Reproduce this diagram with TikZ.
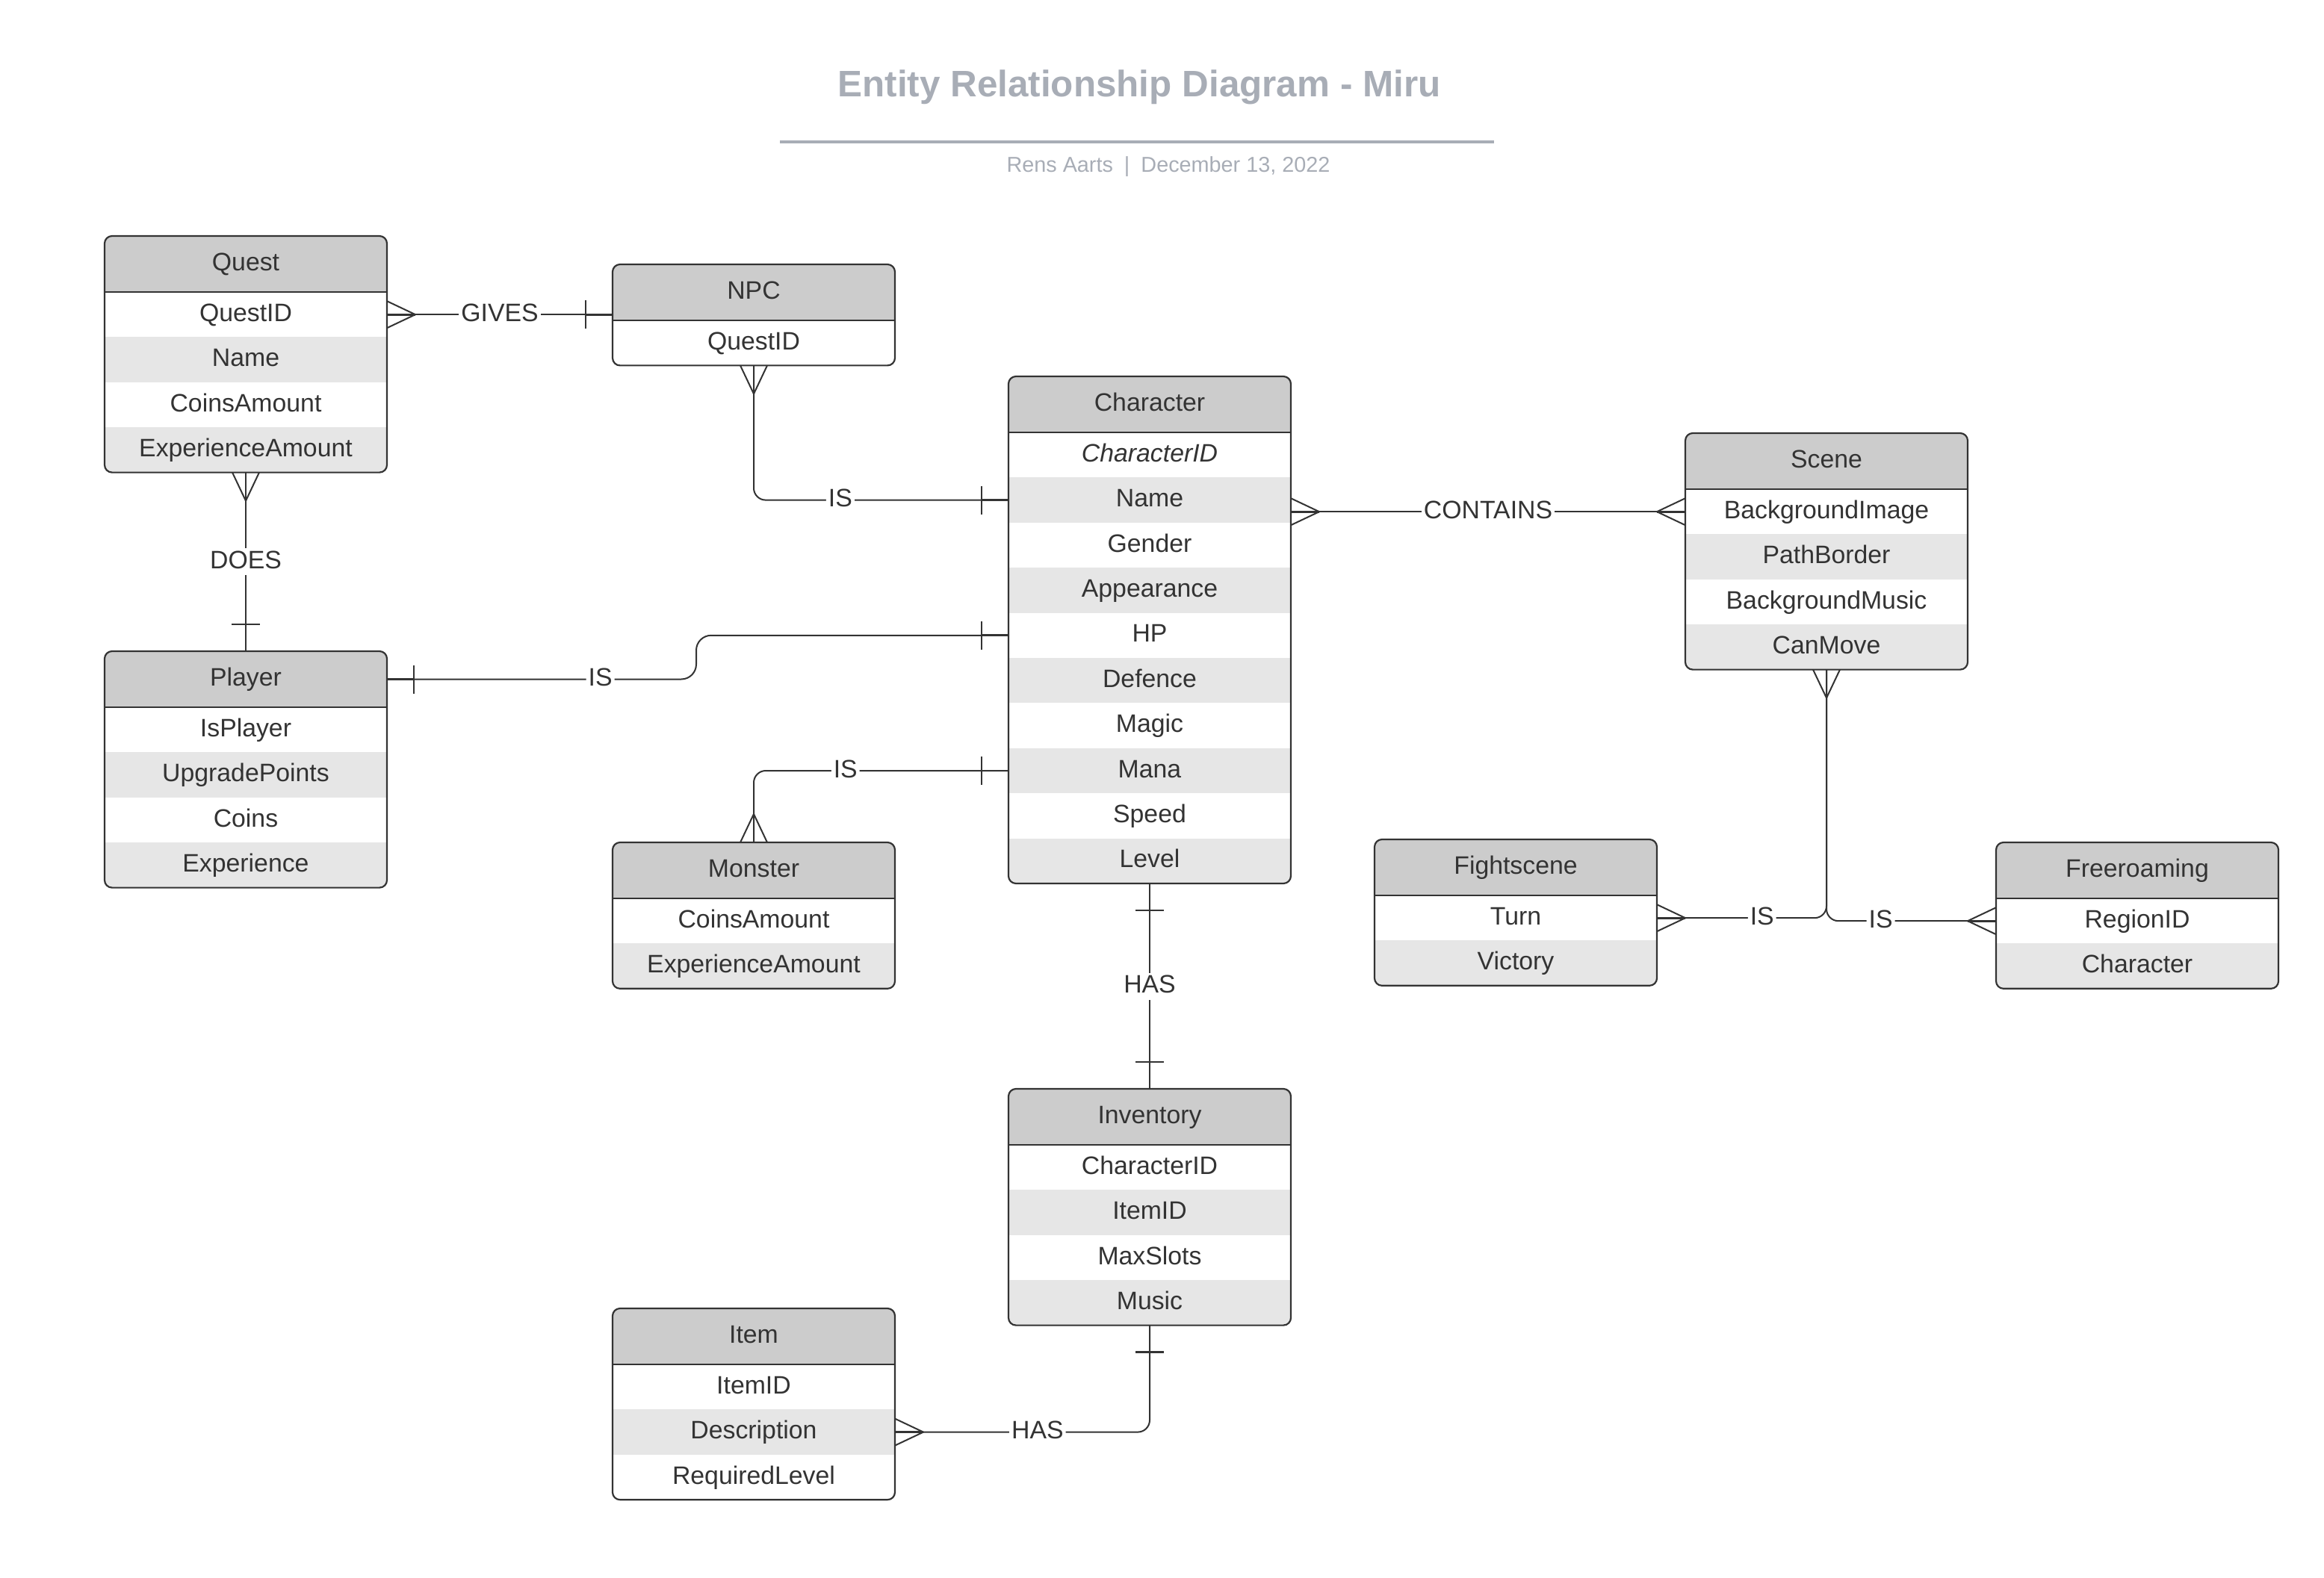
\documentclass[tikz,border=0pt]{standalone}
\usepackage{fontspec}
\setmainfont{Liberation Sans}

\definecolor{ink}{HTML}{333333}
\definecolor{headfill}{HTML}{CCCCCC}
\definecolor{rowfill}{HTML}{E6E6E6}
\definecolor{faded}{HTML}{A8ADB6}

\tikzset{
  pics/many/.style={code={
    \draw[foot] (0,0) -- (19,0);
    \draw[conn] (0,-9) -- (19,0) -- (0,9);
  }},
  pics/one/.style={code={
    \draw[foot] (0,0) -- (18,0) (18,-9.5) -- (18,9.5);
  }},
}

\begin{document}
\begin{tikzpicture}[x=1pt, y=-1pt, line join=round,
  entbox/.style={draw=ink, line width=1.1pt, rounded corners=5pt, inner sep=0pt,
    outer sep=0pt, minimum width=189pt, anchor=north west},
  field/.style={text=ink, font=\fontsize{16.9}{20}\selectfont, text height=12pt,
    text depth=3pt, inner sep=0pt},
  conn/.style={draw=ink, line width=1pt},
  foot/.style={draw=ink, line width=1.4pt},
  lbl/.style={field, fill=white, inner sep=1.5pt},
]

  \useasboundingbox (0,0) rectangle (1555.5,1056.5);

  \def\entity#1#2#3#4#5{%
    \foreach \f [count=\n] in {#5} {\xdef\nrows{\n}}
    \begin{scope}
      \clip[rounded corners=5pt] (#2,#3) rectangle ++(189,37.5+\nrows*30.2);
      \fill[headfill] (#2,#3) rectangle ++(189,37.5);
      \foreach \f [count=\i] in {#5} {
        \pgfmathsetmacro\ry{#3+37.5+(\i-1)*30.2}
        \ifodd\i\else\fill[rowfill] (#2,\ry) rectangle ++(189,30.2);\fi
        \node[field] (#1-\i) at (#2+94.5,\ry+15.1) {\f};
      }
    \end{scope}
    \draw[ink, line width=1.1pt] (#2,#3+37.5) -- ++(189,0);
    \node[entbox, minimum height=37.5pt+\nrows*30.2pt] (#1) at (#2,#3) {};
    \node[field] (#1-title) at (#2+94.5,#3+18.75) {#4};
  }

  % heading
  \node[text=faded, font=\bfseries\fontsize{24.7}{30}\selectfont, anchor=base, inner sep=0pt]
    (title) at (762.5,65) {Entity Relationship Diagram - Miru};
  \draw[faded, line width=1.7pt] (522,95) -- (1000,95);
  \node[text=faded, font=\fontsize{14.4}{17}\selectfont, anchor=base, inner sep=0pt]
    (byline) at (782,115.5) {Rens Aarts\hspace{7.5pt}|\hspace{7.5pt}December 13, 2022};

  \entity{quest}{70}{158}{Quest}{QuestID, Name, CoinsAmount, ExperienceAmount}
  \entity{npc}{410}{177}{NPC}{QuestID}
  \entity{char}{675}{252}{Character}{\textit{CharacterID}, Name, Gender, Appearance, HP,
    Defence, Magic, Mana, Speed, Level}
  \entity{scene}{1128}{290}{Scene}{BackgroundImage, PathBorder, BackgroundMusic, CanMove}
  \entity{player}{70}{436}{Player}{IsPlayer, UpgradePoints, Coins, Experience}
  \entity{monster}{410}{564}{Monster}{CoinsAmount, ExperienceAmount}
  \entity{fight}{920}{562}{Fightscene}{Turn, Victory}
  \entity{free}{1336}{564}{Freeroaming}{RegionID, Character}
  \entity{inv}{675}{729}{Inventory}{CharacterID, ItemID, MaxSlots, Music}
  \entity{item}{410}{876}{Item}{ItemID, Description, RequiredLevel}

  % relationships
  \draw[conn] (quest.east |- quest-1) -- node[lbl]{GIVES} (npc.west |- quest-1);
  \pic at (quest.east |- quest-1) {many};
  \pic[rotate=180] at (npc.west |- quest-1) {one};

  \draw[conn, rounded corners=8pt] (npc.south) |- node[lbl, pos=.67]{IS} (char.west |- char-2);
  \pic[rotate=-90] at (npc.south) {many};
  \pic[rotate=180] at (char.west |- char-2) {one};

  \draw[conn] (char.east |- scene-1) -- node[lbl]{CONTAINS} (scene.west |- scene-1);
  \pic at (char.east |- scene-1) {many};
  \pic[rotate=180] at (scene.west |- scene-1) {many};

  \draw[conn] (quest.south) -- node[lbl]{DOES} (player.north);
  \pic[rotate=-90] at (quest.south) {many};
  \pic[rotate=90] at (player.north) {one};

  \coordinate (jog) at (466,0);
  \draw[conn, rounded corners=10pt] (player.east |- player-title)
    -- node[lbl, pos=.69]{IS} (jog |- player-title) -- (jog |- char-5) -- (char.west |- char-5);
  \pic at (player.east |- player-title) {one};
  \pic[rotate=180] at (char.west |- char-5) {one};

  \draw[conn, rounded corners=8pt] (monster.north) |- node[lbl, pos=.68]{IS} (char.west |- char-8);
  \pic[rotate=90] at (monster.north) {many};
  \pic[rotate=180] at (char.west |- char-8) {one};

  \draw[conn] (char.south) -- node[lbl]{HAS} (inv.north);
  \pic[rotate=-90] at (char.south) {one};
  \pic[rotate=90] at (inv.north) {one};

  \draw[conn, rounded corners=8pt] (inv.south) |- node[lbl, pos=.72]{HAS} (item.east |- item-2);
  \pic[rotate=-90] at (inv.south) {one};
  \pic at (item.east |- item-2) {many};

  \draw[conn, rounded corners=8pt] (scene.south) |- node[lbl, pos=.69]{IS} (fight.east |- fight-1);
  \draw[conn, rounded corners=8pt] (scene.south) |- node[lbl, pos=.66]{IS} (free.west |- free-1);
  \pic[rotate=-90] at (scene.south) {many};
  \pic at (fight.east |- fight-1) {many};
  \pic[rotate=180] at (free.west |- free-1) {many};

\end{tikzpicture}
\end{document}
